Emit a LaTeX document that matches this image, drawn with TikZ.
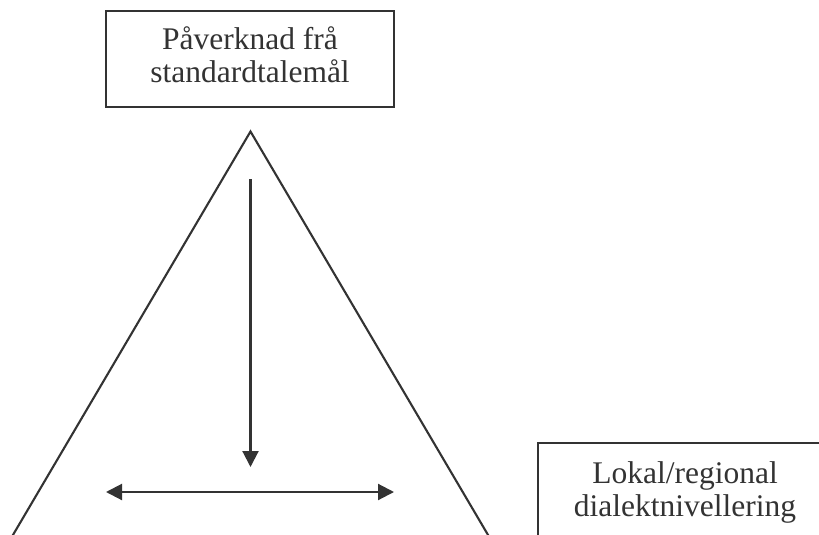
\documentclass[tikz,border=0pt]{standalone}
\usepackage{fontspec}
\setmainfont{Liberation Serif}
\usetikzlibrary{arrows.meta}
\definecolor{ink}{RGB}{51,51,51}
\begin{document}
\begin{tikzpicture}[x=1pt,y=-1pt,
  line width=2.1pt,
  framebox/.style={draw=ink, line width=2.1pt, minimum width=288pt, minimum height=96pt, inner sep=0pt},
  boxtext/.style={align=center, text=ink, font=\fontsize{31.5}{33}\selectfont, inner sep=0pt},
  arr/.style={-{Triangle[length=16pt,width=16pt]}, draw=ink, fill=ink, line width=2.1pt},
  dblarr/.style={{Triangle[length=16pt,width=16pt]}-{Triangle[length=16pt,width=16pt]}, draw=ink, fill=ink, line width=2.1pt}]
\useasboundingbox (0,0) rectangle (819,535);
\clip (0,0) rectangle (819,535);
% top box
\node[framebox] (std) at (250,59) {};
\node[boxtext] (stdtext) at (250,55) {Påverknad frå\\standardtalemål};
% triangle
\coordinate (apex) at (250.5,131.5);
\coordinate (bl) at (10,540);
\coordinate (br) at (491,540);
\draw[draw=ink] (bl) -- (apex) -- (br);
% vertical arrow
\coordinate (vs) at (250.5,179);
\coordinate (ve) at (250.5,467);
\draw[arr] (vs) -- (ve);
% horizontal double arrow
\coordinate (hl) at (106,492);
\coordinate (hr) at (394,492);
\draw[dblarr] (hl) -- (hr);
% right box
\node[framebox, minimum width=294pt] (lok) at (685,491) {};
\node[boxtext] (loktext) at (685,492) {Lokal/regional\\dialektnivellering};
\end{tikzpicture}
\end{document}
